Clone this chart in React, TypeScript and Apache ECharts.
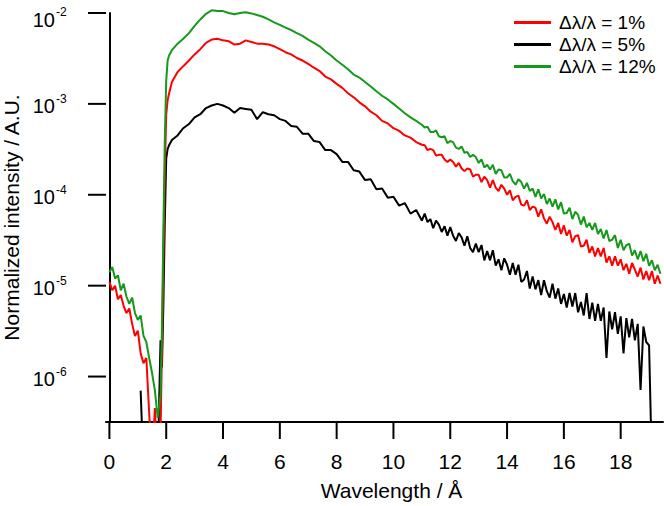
import React, { useEffect, useRef } from "react";
import * as echarts from "echarts";

// Wavelength grid (Å)
const wavelength = [
  0, 0.1, 0.2, 0.3, 0.4, 0.5, 0.6, 0.7, 0.8, 0.9, 1.0, 1.1, 1.2, 1.3, 1.4, 1.5, 1.6, 1.7, 1.8,
  1.85, 1.9, 1.95, 2.0, 2.05, 2.1,
  2.2, 2.4, 2.6, 2.8, 3.0, 3.2, 3.4, 3.6, 3.8, 4.0, 4.2, 4.4, 4.6, 4.8, 5.0, 5.2, 5.4, 5.6, 5.8,
  6.0, 6.2, 6.4, 6.6, 6.8, 7.0, 7.2, 7.4, 7.6, 7.8, 8.0, 8.2, 8.4, 8.6, 8.8, 9.0, 9.2, 9.4, 9.6,
  9.8, 10.0, 10.2, 10.4, 10.6, 10.8, 11.0,
  11.1, 11.2, 11.3, 11.4, 11.5, 11.6, 11.7, 11.8, 11.9, 12.0,
  12.1, 12.2, 12.3, 12.4, 12.5, 12.6, 12.7, 12.8, 12.9, 13.0,
  13.1, 13.2, 13.3, 13.4, 13.5, 13.6, 13.7, 13.8, 13.9, 14.0,
  14.1, 14.2, 14.3, 14.4, 14.5, 14.6, 14.7, 14.8, 14.9, 15.0,
  15.1, 15.2, 15.3, 15.4, 15.5, 15.6, 15.7, 15.8, 15.9, 16.0,
  16.1, 16.2, 16.3, 16.4, 16.5, 16.6, 16.7, 16.8, 16.9, 17.0,
  17.1, 17.2, 17.3, 17.4, 17.5, 17.6, 17.7, 17.8, 17.9, 18.0,
  18.1, 18.2, 18.3, 18.4, 18.5, 18.6, 18.7, 18.8, 18.9, 19.0,
  19.1, 19.2, 19.3, 19.4,
];

// Δλ/λ = 1% (red)
const res1 = [
  1.1e-5, 8.9e-6, 1.0e-5, 7.1e-6, 7.9e-6, 6.0e-6, 5.0e-6, 5.6e-6, 3.8e-6, 2.8e-6, 3.2e-6, 1.8e-6, 1.4e-6, 1.6e-6, 4.0e-7, 1e-7, 4.5e-7, 1e-7, 2.5e-7,
  2.0e-6, 2.0e-5, 1.8e-4, 7.6e-4, 1.1e-3, 1.3e-3,
  1.74e-3, 2.24e-3, 2.6e-3, 3.0e-3, 3.5e-3, 4.0e-3, 4.7e-3, 5.1e-3, 5.2e-3, 5.0e-3, 4.9e-3, 4.5e-3, 4.6e-3, 5.0e-3, 4.8e-3,
  4.6e-3, 4.6e-3, 4.5e-3, 4.3e-3, 4.0e-3, 3.7e-3, 3.5e-3, 3.2e-3, 3.0e-3, 2.75e-3, 2.5e-3, 2.3e-3, 2.0e-3, 1.86e-3, 1.66e-3,
  1.5e-3, 1.31e-3, 1.18e-3, 1.04e-3, 9.4e-4, 8.2e-4, 7.5e-4, 6.5e-4, 6.1e-4, 5.4e-4, 5.05e-4, 4.5e-4, 4.25e-4, 3.8e-4, 3.55e-4,
  3.5e-4, 3.1e-4, 3.2e-4, 3.1e-4, 2.7e-4, 2.75e-4, 2.75e-4, 2.45e-4, 2.3e-4, 2.45e-4,
  2.3e-4, 2.04e-4, 2.24e-4, 1.95e-4, 1.82e-4, 1.95e-4, 1.9e-4, 1.58e-4, 1.66e-4, 1.66e-4,
  1.38e-4, 1.58e-4, 1.45e-4, 1.2e-4, 1.45e-4, 1.2e-4, 1.1e-4, 1.29e-4, 1.17e-4, 1.0e-4,
  1.12e-4, 8.7e-5, 9.5e-5, 9.8e-5, 7.8e-5, 7.6e-5, 8.7e-5, 6.8e-5, 7.4e-5, 7.2e-5,
  5.75e-5, 6.9e-5, 5.5e-5, 4.8e-5, 5.75e-5, 5.0e-5, 4.1e-5, 4.9e-5, 3.7e-5, 4.6e-5,
  3.55e-5, 4.1e-5, 3.0e-5, 3.5e-5, 3.6e-5, 2.7e-5, 2.75e-5, 3.2e-5, 2.3e-5, 2.7e-5,
  2.1e-5, 2.6e-5, 2.1e-5, 2.6e-5, 1.8e-5, 2.1e-5, 1.66e-5, 2.1e-5, 1.66e-5, 1.95e-5,
  1.48e-5, 1.74e-5, 1.35e-5, 1.78e-5, 1.5e-5, 1.26e-5, 1.58e-5, 1.17e-5, 1.45e-5, 1.15e-5,
  1.45e-5, 1.05e-5, 1.29e-5, 1.05e-5,
];

// Δλ/λ = 5% (black)
const res5 = [
  null, null, null, null, null, null, null, null, null, null, null, 7e-7, 1e-7, null, null, null, null, 1e-7, 2.5e-6,
  1.26e-6, 6.3e-6, 5.0e-5, 2.5e-4, 3.2e-4, 3.5e-4,
  4.0e-4, 4.5e-4, 5.4e-4, 6.0e-4, 7.1e-4, 7.7e-4, 9.0e-4, 9.6e-4, 1.0e-3, 9.6e-4, 9.0e-4, 8.0e-4, 9.0e-4, 8.8e-4, 8.6e-4,
  6.8e-4, 8.1e-4, 7.7e-4, 7.5e-4, 6.8e-4, 6.5e-4, 5.7e-4, 5.6e-4, 4.7e-4, 4.7e-4, 3.9e-4, 3.8e-4, 3.1e-4, 3.1e-4, 2.8e-4,
  2.3e-4, 2.3e-4, 1.86e-4, 1.8e-4, 1.45e-4, 1.48e-4, 1.15e-4, 1.17e-4, 9.3e-5, 9.5e-5, 7.6e-5, 8.1e-5, 6.2e-5, 6.8e-5, 5.2e-5,
  6.2e-5, 5.0e-5, 5.4e-5, 4.3e-5, 5.2e-5, 4.7e-5, 3.9e-5, 4.5e-5, 3.55e-5, 4.4e-5,
  3.55e-5, 3.1e-5, 3.8e-5, 3.4e-5, 2.75e-5, 3.5e-5, 2.6e-5, 2.34e-5, 2.9e-5, 2.34e-5,
  2.8e-5, 1.9e-5, 2.4e-5, 1.9e-5, 2.45e-5, 1.66e-5, 1.95e-5, 1.48e-5, 2.0e-5, 1.7e-5,
  1.32e-5, 1.78e-5, 1.32e-5, 1.7e-5, 1.1e-5, 1.17e-5, 1.45e-5, 9.3e-6, 1.26e-5, 9.1e-6,
  1.15e-5, 7.9e-6, 1.15e-5, 8.7e-6, 7.4e-6, 1.05e-5, 7.2e-6, 9.3e-6, 6.3e-6, 8.1e-6,
  5.75e-6, 8.3e-6, 5.9e-6, 8.3e-6, 5.1e-6, 6.6e-6, 4.7e-6, 8.3e-6, 4.3e-6, 6.5e-6,
  4.1e-6, 6.3e-6, 4.1e-6, 5.75e-6, 1.6e-6, 5.2e-6, 3.3e-6, 5.1e-6, 2.95e-6, 4.6e-6,
  1.8e-6, 4.4e-6, 2.7e-6, 4.3e-6, 2.5e-6, 3.8e-6, 7.1e-7, 3.55e-6, 2.4e-6, 2.2e-6,
  1e-7, null, null, null,
];

// Δλ/λ = 12% (green)
const res12 = [
  1.4e-5, 1.6e-5, 1.2e-5, 1.3e-5, 8.9e-6, 1.05e-5, 7.6e-6, 6.3e-6, 7.4e-6, 5.0e-6, 4.2e-6, 4.7e-6, 2.8e-6, 2.4e-6, 1.6e-6, 1.1e-6, 7.1e-7, 3.5e-7, 6.3e-7,
  3.5e-6, 4.0e-5, 4.0e-4, 1.8e-3, 3.0e-3, 3.4e-3,
  3.9e-3, 4.6e-3, 5.2e-3, 6.0e-3, 7.2e-3, 8.5e-3, 9.8e-3, 1.07e-2, 1.05e-2, 1.05e-2, 1.0e-2, 9.7e-3, 1.0e-2, 1.02e-2, 9.9e-3,
  9.5e-3, 9.1e-3, 8.5e-3, 7.9e-3, 7.4e-3, 6.9e-3, 6.5e-3, 6.0e-3, 5.6e-3, 5.1e-3, 4.7e-3, 4.3e-3, 3.8e-3, 3.4e-3, 3.0e-3,
  2.7e-3, 2.4e-3, 2.1e-3, 1.95e-3, 1.74e-3, 1.55e-3, 1.38e-3, 1.23e-3, 1.12e-3, 1.0e-3, 8.9e-4, 7.9e-4, 7.1e-4, 6.5e-4, 5.9e-4,
  5.5e-4, 5.6e-4, 4.9e-4, 4.9e-4, 5.1e-4, 4.4e-4, 4.3e-4, 4.4e-4, 3.7e-4, 3.9e-4,
  3.8e-4, 3.3e-4, 3.2e-4, 3.4e-4, 2.9e-4, 2.95e-4, 2.6e-4, 2.75e-4, 2.6e-4, 2.24e-4,
  2.45e-4, 2.0e-4, 2.14e-4, 1.9e-4, 2.14e-4, 1.7e-4, 1.9e-4, 1.86e-4, 1.55e-4, 1.55e-4,
  1.7e-4, 1.41e-4, 1.29e-4, 1.48e-4, 1.38e-4, 1.17e-4, 1.35e-4, 1.1e-4, 1.17e-4, 9.5e-5,
  1.15e-4, 9.1e-5, 1.02e-4, 7.9e-5, 9.1e-5, 7.4e-5, 8.9e-5, 6.9e-5, 8.3e-5, 6.2e-5,
  6.3e-5, 7.2e-5, 5.4e-5, 6.5e-5, 6.0e-5, 4.7e-5, 5.75e-5, 4.4e-5, 4.9e-5, 4.1e-5,
  4.9e-5, 3.7e-5, 4.2e-5, 3.3e-5, 4.1e-5, 3.1e-5, 3.2e-5, 3.6e-5, 2.6e-5, 3.2e-5,
  2.45e-5, 2.8e-5, 2.9e-5, 2.14e-5, 2.45e-5, 1.95e-5, 2.4e-5, 1.86e-5, 2.24e-5, 1.66e-5,
  1.9e-5, 1.48e-5, 1.7e-5, 1.35e-5,
];

const seriesNames = ["Δλ/λ = 1%", "Δλ/λ = 5%", "Δλ/λ = 12%"];
const seriesColors = ["#ff0000", "#000000", "#15991a"];
const xTickValues = [0, 2, 4, 6, 8, 10, 12, 14, 16, 18];
const yTickValues = [1e-6, 1e-5, 1e-4, 1e-3, 1e-2];
const X_MIN = -0.12;
const X_MAX = 19.49;
const Y_MIN = 3.1623e-7;
const Y_MAX = 1e-2;

const FONT_NAME = "Liberation Sans";
const FONT = "'Liberation Sans', Arial, sans-serif";

export default function App() {
  const ref = useRef<HTMLDivElement>(null);

  useEffect(() => {
    if (!ref.current) return;
    const chart = echarts.init(ref.current, undefined, { renderer: "svg" });
    const seriesData = [res1, res5, res12];

    const lineSeries = seriesNames.map((name, i) => ({
      name,
      type: "line",
      data: wavelength.map((x, j) => [x, seriesData[i][j]]),
      showSymbol: false,
      symbol: "none",
      connectNulls: false,
      clip: i !== 2,
      color: seriesColors[i],
      lineStyle: { color: seriesColors[i], width: 2 },
      z: i === 2 ? 4 : i === 0 ? 3 : 2,
    }));

    // y ticks + power-of-ten labels, placed through the axis scale
    const yTickSeries = {
      type: "custom",
      coordinateSystem: "cartesian2d",
      silent: true,
      clip: false,
      z: 6,
      data: yTickValues.map((v) => [X_MIN, v]),
      encode: { x: 0, y: 1 },
      renderItem: (_p: any, api: any) => {
        const val = api.value(1);
        const pt = api.coord([api.value(0), val]);
        const e = Math.round(Math.log10(val));
        const exp = e < 0 ? "-" + Math.abs(e) : String(e);
        const isTop = val >= Y_MAX * 0.999;
        const baseY = pt[1] + (isTop ? 6.5 : 2);
        const supY = pt[1] + (isTop ? -1 : -5);
        const joinX = pt[0] - 51;
        return {
          type: "group",
          children: [
            {
              type: "line",
              shape: { x1: pt[0] - 18, y1: pt[1], x2: pt[0], y2: pt[1] },
              style: { stroke: "#000", lineWidth: 2 },
            },
            {
              type: "text",
              x: joinX,
              y: baseY,
              style: {
                text: "10",
                fill: "#000",
                fontSize: 20,
                fontFamily: FONT_NAME,
                align: "right",
                verticalAlign: "middle",
              },
            },
            {
              type: "text",
              x: joinX + 1,
              y: supY,
              style: {
                text: exp,
                fill: "#000",
                fontSize: 12,
                fontFamily: FONT_NAME,
                align: "left",
                verticalAlign: "middle",
              },
            },
          ],
        };
      },
    };

    const xTickSeries = {
      type: "custom",
      coordinateSystem: "cartesian2d",
      silent: true,
      clip: false,
      z: 6,
      data: xTickValues.map((v) => [v, Y_MIN]),
      encode: { x: 0, y: 1 },
      renderItem: (_p: any, api: any) => {
        const pt = api.coord([api.value(0), api.value(1)]);
        return {
          type: "line",
          shape: { x1: pt[0], y1: pt[1] + 1, x2: pt[0], y2: pt[1] + 17 },
          style: { stroke: "#000", lineWidth: 2 },
        };
      },
    };

    chart.setOption({
      animation: false,
      backgroundColor: "#ffffff",
      textStyle: { fontFamily: FONT, color: "#000" },
      grid: { left: 106, right: 1, top: 13, bottom: 84, containLabel: false, outerBoundsMode: "none" },
      legend: {
        data: seriesNames,
        orient: "vertical",
        left: 514,
        top: 12,
        padding: 0,
        itemGap: 1,
        itemWidth: 37,
        itemHeight: 3,
        icon: "rect",
        textStyle: { fontSize: 19, fontFamily: FONT, color: "#000", lineHeight: 21, padding: [0, 0, 0, 3] },
      },
      xAxis: {
        type: "value",
        min: X_MIN,
        max: X_MAX,
        name: "Wavelength / Å",
        nameLocation: "middle",
        nameGap: 58,
        nameTextStyle: { fontSize: 21, color: "#000", fontFamily: FONT, padding: [0, 0, 0, 14] },
        axisLine: { onZero: false, lineStyle: { color: "#000", width: 2 } },
        axisTick: { show: false },
        axisLabel: { fontSize: 21, color: "#000", margin: 29, fontFamily: FONT, customValues: xTickValues },
        splitLine: { show: false },
      },
      yAxis: {
        type: "log",
        logBase: 10,
        min: Y_MIN,
        max: Y_MAX,
        name: "Normalized intensity / A.U.",
        nameLocation: "middle",
        nameGap: 84,
        nameTextStyle: { fontSize: 21, color: "#000", fontFamily: FONT },
        axisLine: { lineStyle: { color: "#000", width: 2 } },
        axisTick: { show: false },
        axisLabel: { show: false },
        splitLine: { show: false },
      },
      series: [...lineSeries, yTickSeries, xTickSeries],
    });

    return () => chart.dispose();
  }, []);

  return (
    <div
      ref={ref}
      style={{ position: "fixed", left: 0, top: 0, width: 664, height: 506, background: "#fff" }}
    />
  );
}
